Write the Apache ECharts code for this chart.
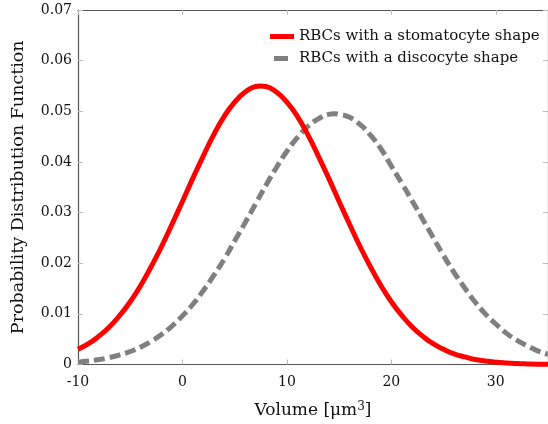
<!DOCTYPE html>
<html>
<head>
<meta charset="utf-8">
<script src="https://cdn.jsdelivr.net/npm/echarts@6/dist/echarts.min.js"></script>
<style>
html,body{margin:0;padding:0;background:#fff;overflow:hidden;}
#c{width:548px;height:424px;}
</style>
</head>
<body>
<div id="c"></div>
<script>
const stomatocyteVolume = [-10,-9,-8,-7,-6,-5,-4,-3,-2,-1,0,1,2,3,4,5,6,7,7.5,8,9,10,11,12,13,14,15,16,17,18,19,20,21,22,23,24,25,26,27,28,29,30,31,32,33,34,35];
const stomatocyte = [0.0030,0.0041,0.0056,0.0074,0.0097,0.0124,0.0156,0.0193,0.0233,0.0277,0.0322,0.0368,0.0412,0.0454,0.0490,0.0518,0.0538,0.0549,0.0550,0.0549,0.0538,0.0518,0.0490,0.0454,0.0412,0.0368,0.0322,0.0277,0.0233,0.0193,0.0156,0.0124,0.0097,0.0074,0.0056,0.0041,0.0030,0.0021,0.0015,0.0010,0.0007,0.00045,0.00029,0.00018,0.00011,0.00006,0.00004];
const discocyteVolume = [-10,-9,-8,-7,-6,-5,-4,-3,-2,-1,0,1,2,3,4,5,6,7,8,9,10,11,12,13,14,14.5,15,16,17,18,19,20,21,22,23,24,25,26,27,28,29,30,31,32,33,34,35];
const discocyte = [0.00047,0.00068,0.00097,0.00136,0.00189,0.00257,0.00345,0.00456,0.00594,0.0076,0.0096,0.0119,0.0146,0.0176,0.0208,0.0244,0.0280,0.0317,0.0354,0.0389,0.0421,0.0448,0.0470,0.0485,0.0494,0.0495,0.0494,0.0488,0.0474,0.0453,0.0426,0.0392,0.0358,0.0323,0.0287,0.0251,0.0215,0.0182,0.0152,0.0124,0.0100,0.0080,0.0062,0.0048,0.0037,0.0027,0.0020];
const seriesNames = ['RBCs with a stomatocyte shape','RBCs with a discocyte shape'];
const xTitle = 'Volume [μm{sup|3}]';
const yTitle = 'Probability Distribution Function';

const font = 'DejaVu Serif';
const chart = echarts.init(document.getElementById('c'));
const pair = (xs, ys) => xs.map((x, i) => [x, ys[i]]);
const axisLineStyle = {color: '#555', width: 1.2};
const tickStyle = {color: '#bbb', width: 1};

chart.setOption({
  backgroundColor: '#fff',
  animation: false,
  grid: {left: 78, top: 10, bottom: 57, right: -4, containLabel: false},
  legend: {
    left: 265, top: 24, orient: 'vertical', itemGap: 7,
    itemWidth: 24, itemHeight: 5,
    textStyle: {fontFamily: font, fontSize: 15, color: '#111', padding: [0, 0, 0, 0]},
    data: [
      {name: seriesNames[0], icon: 'rect'},
      {name: seriesNames[1], icon: 'path://M4,0h14v5h-14zM0,2.5h0.001M24,2.5h0.001'}
    ]
  },
  xAxis: [{
    type: 'value', min: -10, max: 35, interval: 10, position: 'bottom',
    axisLine: {show: true, onZero: false, lineStyle: axisLineStyle},
    axisTick: {show: true, inside: true, length: 5, lineStyle: tickStyle},
    splitLine: {show: false},
    axisLabel: {showMaxLabel: false, fontFamily: font, fontSize: 14, color: '#111', margin: 11},
    name: xTitle, nameLocation: 'middle', nameGap: 36,
    nameTextStyle: {fontFamily: font, fontSize: 17, color: '#111',
      rich: {sup: {fontFamily: font, fontSize: 12, color: '#111', verticalAlign: 'top', padding: [0, 0, 8, 0]}}}
  }, {
    type: 'value', min: -10, max: 35, interval: 10, position: 'top',
    axisLine: {show: true, onZero: false, lineStyle: axisLineStyle},
    axisTick: {show: true, inside: true, length: 5, lineStyle: tickStyle},
    splitLine: {show: false},
    axisLabel: {show: false}
  }],
  yAxis: [{
    type: 'value', min: 0, max: 0.07, interval: 0.01, position: 'left',
    axisLine: {show: true, onZero: false, lineStyle: axisLineStyle},
    axisTick: {show: true, inside: true, length: 5, lineStyle: tickStyle},
    splitLine: {show: false},
    axisLabel: {fontFamily: font, fontSize: 14, color: '#111', margin: 6,
      formatter: v => v === 0 ? '0' : v.toFixed(2)},
    name: yTitle, nameLocation: 'middle', nameGap: 51,
    nameTextStyle: {fontFamily: font, fontSize: 17.5, color: '#111'}
  }, {
    type: 'value', min: 0, max: 0.07, interval: 0.01, position: 'right',
    axisLine: {show: true, onZero: false, lineStyle: axisLineStyle},
    axisTick: {show: true, inside: true, length: 5, lineStyle: tickStyle},
    splitLine: {show: false},
    axisLabel: {show: false}
  }],
  series: [{
    name: seriesNames[0], type: 'line', smooth: true, symbol: 'none',
    data: pair(stomatocyteVolume, stomatocyte),
    lineStyle: {color: '#ff0000', width: 5},
    itemStyle: {color: '#ff0000'}, z: 3
  }, {
    name: seriesNames[1], type: 'line', smooth: true, symbol: 'none',
    data: pair(discocyteVolume, discocyte),
    lineStyle: {color: '#808080', width: 5, type: [11, 5]},
    itemStyle: {color: '#808080'}, z: 2
  }]
});
</script>
</body>
</html>
